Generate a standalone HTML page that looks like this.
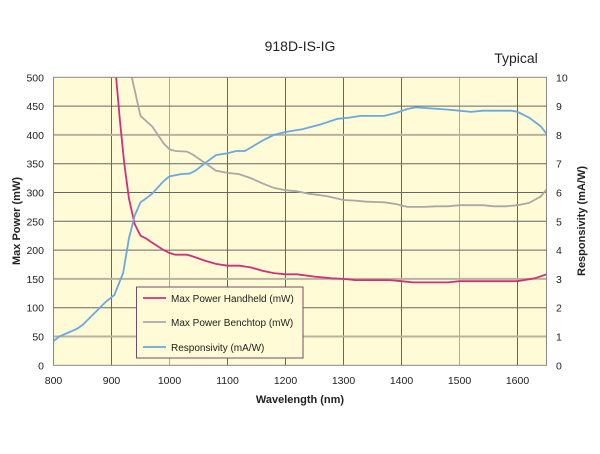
<!DOCTYPE html>
<html><head><meta charset="utf-8"><style>
body{margin:0;background:#fff;}
svg text{font-family:"Liberation Sans",sans-serif;}
</style></head><body>
<svg id="s" width="600" height="449" xmlns="http://www.w3.org/2000/svg">
<rect x="53.5" y="77.3" width="493" height="288" fill="#fffbd6"/>
<g id="grid"></g>
<g id="lines" fill="none" stroke-width="1.8"></g>
<rect x="53.5" y="77.3" width="493" height="288" fill="none" stroke="#888" stroke-width="1"/>
<text x="300" y="51" font-size="14" text-anchor="middle" fill="#222">918D-IS-IG</text>
<text x="516" y="63" font-size="14" text-anchor="middle" fill="#222">Typical</text>
<g id="ticks" font-size="10.5" fill="#222"></g>
<text x="300" y="403" font-size="11" font-weight="bold" text-anchor="middle" fill="#222">Wavelength (nm)</text>
<text transform="translate(20,221) rotate(-90)" font-size="11" font-weight="bold" text-anchor="middle" fill="#222">Max Power (mW)</text>
<text transform="translate(585,221) rotate(-90)" font-size="11" font-weight="bold" text-anchor="middle" fill="#222">Responsivity (mA/W)</text>
<rect x="136.5" y="287" width="166.5" height="71" fill="#fffbd6" stroke="#7a4a6a" stroke-width="1"/>
<line x1="143" y1="298" x2="166" y2="298" stroke="#d0307a" stroke-width="1.8"/>
<line x1="143" y1="322" x2="166" y2="322" stroke="#a8a8a8" stroke-width="1.8"/>
<line x1="143" y1="347" x2="166" y2="347" stroke="#6aa8e0" stroke-width="1.8"/>
<text x="171" y="302" font-size="10" fill="#222">Max Power Handheld (mW)</text>
<text x="171" y="326" font-size="10" fill="#222">Max Power Benchtop (mW)</text>
<text x="171" y="351" font-size="10" fill="#222">Responsivity (mA/W)</text>
</svg>
<script>
const X=w=>53.5+(w-800)*0.58, Y=v=>365.3-v*0.576;
const ns="http://www.w3.org/2000/svg";
function el(p,t,a,txt){const e=document.createElementNS(ns,t);for(const k in a)e.setAttribute(k,a[k]);if(txt!==undefined)e.textContent=txt;document.getElementById(p).appendChild(e);}
for(let w=900;w<=1600;w+=100){el("grid","line",{x1:X(w),x2:X(w),y1:77.3,y2:365.3,stroke:(w==1000||w==1500)?"#aaa":"#666","stroke-width":1});}
for(let v=50;v<500;v+=50){el("grid","line",{x1:53.5,x2:546.5,y1:Y(v),y2:Y(v),stroke:(v==400||v==150||v==50)?"#b8b2a0":"#666","stroke-width":(v==400||v==150||v==50)?2:1});}
for(let w=800;w<=1600;w+=100)el("ticks","text",{x:X(w),y:384,"text-anchor":"middle"},w);
for(let v=0;v<=500;v+=50)el("ticks","text",{x:44,y:Y(v)+4,"text-anchor":"end"},v);
for(let r=0;r<=10;r++)el("ticks","text",{x:556,y:Y(r*50)+4},r);
const H=[[908,500],[915,420],[922,350],[930,290],[940,245],[950,225],[960,220],[970,213],[990,200],[1000,195],[1010,192],[1030,192],[1040,189],[1060,182],[1080,176],[1100,173],[1120,173],[1140,170],[1160,164],[1180,160],[1200,158],[1220,158],[1250,154],[1280,151],[1300,150],[1320,148],[1380,148],[1400,146],[1420,144],[1480,144],[1500,146],[1600,146],[1630,151],[1650,158]];
const B=[[935,500],[950,433],[970,415],[990,385],[1000,375],[1010,372],[1030,371],[1040,366],[1060,352],[1080,338],[1100,334],[1120,332],[1140,325],[1160,316],[1180,308],[1200,304],[1220,302],[1240,298],[1270,294],[1300,287],[1320,286],[1340,284],[1370,283],[1390,280],[1410,275],[1440,275],[1460,276],[1480,276],[1500,278],[1540,278],[1560,276],[1580,276],[1600,278],[1620,282],[1640,293],[1650,305]];
const R=[[800,42],[810,50],[840,63],[850,70],[870,90],[880,100],[890,110],[905,122],[910,135],[920,160],[930,220],[940,260],[950,283],[960,290],[970,298],[990,320],[1000,328],[1020,332],[1035,333],[1045,338],[1060,350],[1080,365],[1100,368],[1115,372],[1130,372],[1140,378],[1160,390],[1180,400],[1200,405],[1230,410],[1260,418],[1290,428],[1310,430],[1330,433],[1370,433],[1390,438],[1410,445],[1425,448],[1450,446],[1480,444],[1500,442],[1520,440],[1540,442],[1590,442],[1600,440],[1620,430],[1640,415],[1650,402]];
function path(d,c){el("lines","polyline",{points:d.map(p=>X(p[0]).toFixed(1)+","+Y(p[1]).toFixed(1)).join(" "),stroke:c});}
path(B,"#a8a8a8");path(H,"#d0307a");path(R,"#6aa8e0");
</script>
</body></html>
